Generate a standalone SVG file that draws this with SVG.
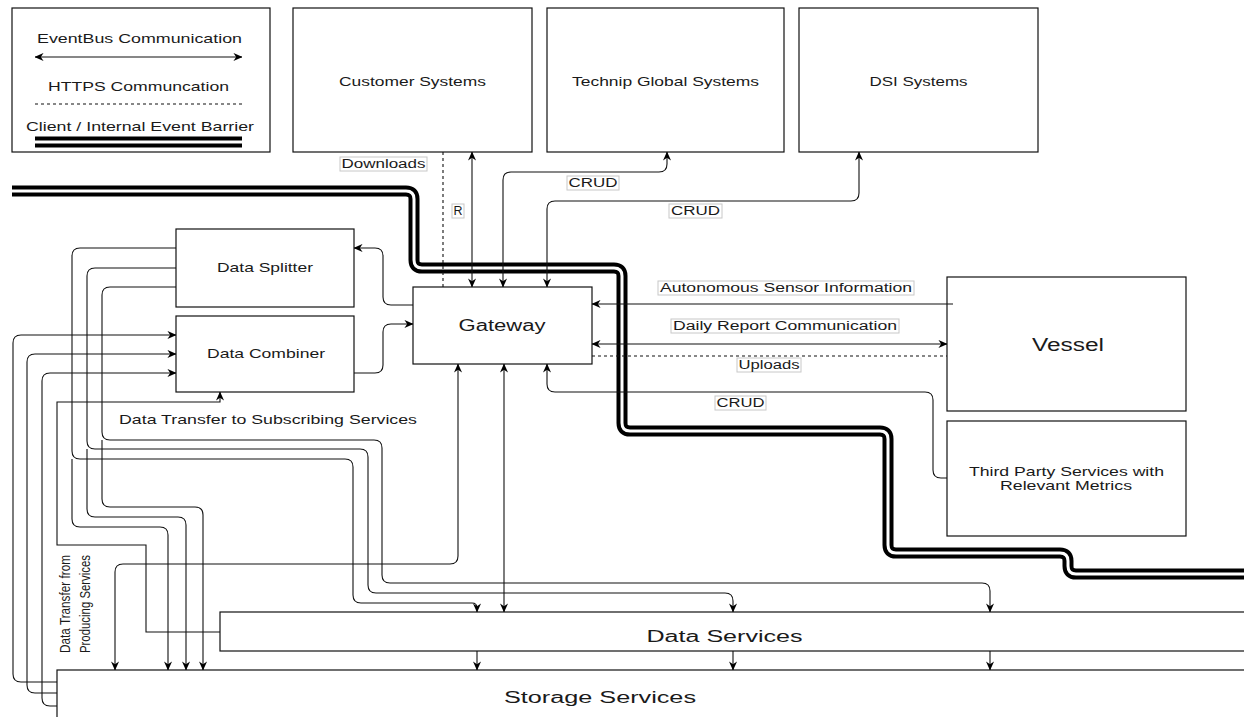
<svg xmlns="http://www.w3.org/2000/svg" width="1244" height="717" viewBox="0 0 1244 717">
<defs>
<marker id="arr" viewBox="0 0 10 10" refX="9.5" refY="5" markerWidth="9" markerHeight="9" orient="auto-start-reverse" markerUnits="userSpaceOnUse"><path d="M0,0.5 L10,5 L0,9.5 L3,5 z" fill="#000"/></marker>
<style>
.box{fill:#fff;stroke:#111;stroke-width:1.2}
.t{font-family:"Liberation Sans",Arial,sans-serif;fill:#1a1a1a;text-anchor:middle}
.c{fill:none;stroke:#111;stroke-width:1.1}
.d{fill:none;stroke:#111;stroke-width:1.1;stroke-dasharray:3,3}
.a2{marker-start:url(#arr);marker-end:url(#arr)}
.a1{marker-end:url(#arr)}
.lb{fill:#fff;stroke:#c8c8c8;stroke-width:1}
.bb{fill:none;stroke:#000;stroke-width:11}
.bw{fill:none;stroke:#fff;stroke-width:3}
</style>
</defs>
<rect width="1244" height="717" fill="#fff"/>

<g id="barrier">
<path class="bb" d="M12,191 H406 Q414,191 414,199 V260 Q414,268 422,268 H614 Q622,268 622,276 V423 Q622,431 630,431 H880 Q888,431 888,439 V545 Q888,553 896,553 H1060 Q1068,553 1068,561 V566 Q1068,574 1076,574 H1252"/>
<path class="bw" d="M12,191 H406 Q414,191 414,199 V260 Q414,268 422,268 H614 Q622,268 622,276 V423 Q622,431 630,431 H880 Q888,431 888,439 V545 Q888,553 896,553 H1060 Q1068,553 1068,561 V566 Q1068,574 1076,574 H1252"/>
</g>

<g id="legend">
<rect class="box" x="12" y="8" width="258" height="144"/>
<text class="t" x="139.5" y="43" font-size="13.5" textLength="205" lengthAdjust="spacingAndGlyphs">EventBus Communication</text>
<path class="c a2" d="M35,57 H242"/>
<text class="t" x="138.5" y="91" font-size="13.5" textLength="181" lengthAdjust="spacingAndGlyphs">HTTPS Communcation</text>
<path class="d" d="M35,104 H242"/>
<text class="t" x="140" y="131" font-size="13.5" textLength="228" lengthAdjust="spacingAndGlyphs">Client / Internal Event Barrier</text>
<path class="bb" d="M35,142 H242"/>
<path class="bw" d="M35,142 H242"/>
</g>

<g id="customer-systems">
<rect class="box" x="293" y="8" width="239" height="144"/>
<text class="t" x="412.5" y="86" font-size="13" textLength="147" lengthAdjust="spacingAndGlyphs">Customer Systems</text>
</g>
<g id="technip-global-systems">
<rect class="box" x="547" y="8" width="237" height="144"/>
<text class="t" x="665.5" y="86" font-size="13" textLength="187" lengthAdjust="spacingAndGlyphs">Technip Global Systems</text>
</g>
<g id="dsi-systems">
<rect class="box" x="799" y="8" width="239" height="144"/>
<text class="t" x="918.5" y="86" font-size="13" textLength="98" lengthAdjust="spacingAndGlyphs">DSI Systems</text>
</g>
<g id="data-splitter">
<rect class="box" x="176" y="229" width="178" height="78"/>
<text class="t" x="265" y="272" font-size="13" textLength="96" lengthAdjust="spacingAndGlyphs">Data Splitter</text>
</g>
<g id="data-combiner">
<rect class="box" x="176" y="316" width="178" height="76"/>
<text class="t" x="266" y="358" font-size="13" textLength="118" lengthAdjust="spacingAndGlyphs">Data Combiner</text>
</g>
<g id="gateway">
<rect class="box" x="413" y="287" width="179" height="77"/>
<text class="t" x="502" y="331" font-size="16" textLength="87" lengthAdjust="spacingAndGlyphs">Gateway</text>
</g>
<g id="vessel">
<rect class="box" x="947" y="277" width="239" height="134"/>
<text class="t" x="1068" y="351" font-size="18" textLength="72" lengthAdjust="spacingAndGlyphs">Vessel</text>
</g>
<g id="third-party-services">
<rect class="box" x="947" y="421" width="239" height="115"/>
<text class="t" x="1066.5" y="476" font-size="13" textLength="195" lengthAdjust="spacingAndGlyphs">Third Party Services with</text>
<text class="t" x="1066" y="490" font-size="13" textLength="132" lengthAdjust="spacingAndGlyphs">Relevant Metrics</text>
</g>
<g id="data-services">
<rect class="box" x="220" y="612" width="1032" height="39"/>
<text class="t" x="724.5" y="642" font-size="16" textLength="156" lengthAdjust="spacingAndGlyphs">Data Services</text>
</g>
<g id="storage-services">
<rect class="box" x="57" y="670" width="1195" height="60"/>
<text class="t" x="600" y="703" font-size="16" textLength="192" lengthAdjust="spacingAndGlyphs">Storage Services</text>
</g>

<g id="connectors">
<path class="c a2" d="M472,152 V287"/>
<path class="c a2" d="M503,287 V180 Q503,172 511,172 H659 Q667,172 667,164 V152"/>
<path class="c a2" d="M547,287 V209 Q547,201 555,201 H851 Q859,201 859,193 V152"/>
<path class="d" d="M443,152 V287"/>
<path class="c a1" d="M413,305 H391 Q383,305 383,297 V256 Q383,248 375,248 H354"/>
<path class="c a1" d="M354,373 H375 Q383,373 383,365 V332 Q383,324 391,324 H413"/>
<path class="c a1" d="M953,304 H592"/>
<path class="c a2" d="M592,344 H947"/>
<path class="d" d="M592,356 H947"/>
<path class="c a1" d="M947,478 H941 Q933,478 933,470 V400 Q933,392 925,392 H555 Q547,392 547,384 V364"/>
<path class="c a2" d="M458,364 V556 Q458,564 450,564 H123 Q115,564 115,572 V670"/>
<path class="c a2" d="M504,364 V612"/>

<path class="c a1" d="M176,248 H80 Q72,248 72,256 V451 Q72,459 80,459 H345 Q353,459 353,467 V595 Q353,603 361,603 H472 Q477,603 477,608 V612"/>
<path class="c a1" d="M72,459 V519 Q72,527 80,527 H160 Q168,527 168,535 V670"/>
<path class="c a1" d="M176,268 H95 Q87,268 87,276 V441 Q87,449 95,449 H360 Q368,449 368,457 V585 Q368,593 376,593 H725 Q733,593 733,601 V612"/>
<path class="c a1" d="M87,449 V509 Q87,517 95,517 H178 Q186,517 186,525 V670"/>
<path class="c a1" d="M176,287 H110 Q102,287 102,295 V432 Q102,440 110,440 H374 Q382,440 382,448 V575 Q382,583 390,583 H982 Q990,583 990,591 V612"/>
<path class="c a1" d="M102,440 V499 Q102,507 110,507 H195 Q203,507 203,515 V670"/>

<path class="c a1" d="M57,682 H21 Q13,682 13,674 V343 Q13,335 21,335 H176"/>
<path class="c a1" d="M57,693 H35 Q27,693 27,685 V362 Q27,354 35,354 H176"/>
<path class="c a1" d="M57,706 H50 Q42,706 42,698 V381 Q42,373 50,373 H176"/>
<path class="c a1" d="M220,632 H146 V545 H57 V402 H220 V392"/>

<path class="c a1" d="M477,651 V670"/>
<path class="c a1" d="M733,651 V670"/>
<path class="c a1" d="M990,651 V670"/>

<rect class="lb" x="340" y="157" width="87" height="14"/>
<text class="t" x="383.5" y="168" font-size="12" textLength="84" lengthAdjust="spacingAndGlyphs">Downloads</text>
<rect class="lb" x="452" y="204" width="12" height="14"/>
<text class="t" x="458" y="215" font-size="12" textLength="9" lengthAdjust="spacingAndGlyphs">R</text>
<rect class="lb" x="567" y="176" width="52" height="14"/>
<text class="t" x="593" y="187" font-size="12" textLength="49" lengthAdjust="spacingAndGlyphs">CRUD</text>
<rect class="lb" x="669" y="204" width="53" height="14"/>
<text class="t" x="695.5" y="215" font-size="12" textLength="49" lengthAdjust="spacingAndGlyphs">CRUD</text>
<rect class="lb" x="658" y="281" width="256" height="14"/>
<text class="t" x="786" y="292" font-size="12" textLength="252" lengthAdjust="spacingAndGlyphs">Autonomous Sensor Information</text>
<rect class="lb" x="671" y="319" width="228" height="14"/>
<text class="t" x="785" y="330" font-size="12" textLength="224" lengthAdjust="spacingAndGlyphs">Daily Report Communication</text>
<rect class="lb" x="737" y="358" width="64" height="14"/>
<text class="t" x="769" y="369" font-size="12" textLength="61" lengthAdjust="spacingAndGlyphs">Uploads</text>
<rect class="lb" x="715" y="396" width="51" height="14"/>
<text class="t" x="740.5" y="407" font-size="12" textLength="48" lengthAdjust="spacingAndGlyphs">CRUD</text>

<text class="t" x="268" y="424" font-size="13" textLength="298" lengthAdjust="spacingAndGlyphs">Data Transfer to Subscribing Services</text>
<text class="t" transform="translate(70,604) rotate(-90)" font-size="15" textLength="98" lengthAdjust="spacingAndGlyphs">Data Transfer from</text>
<text class="t" transform="translate(90,604) rotate(-90)" font-size="15" textLength="98" lengthAdjust="spacingAndGlyphs">Producing Services</text>
</g>
</svg>
